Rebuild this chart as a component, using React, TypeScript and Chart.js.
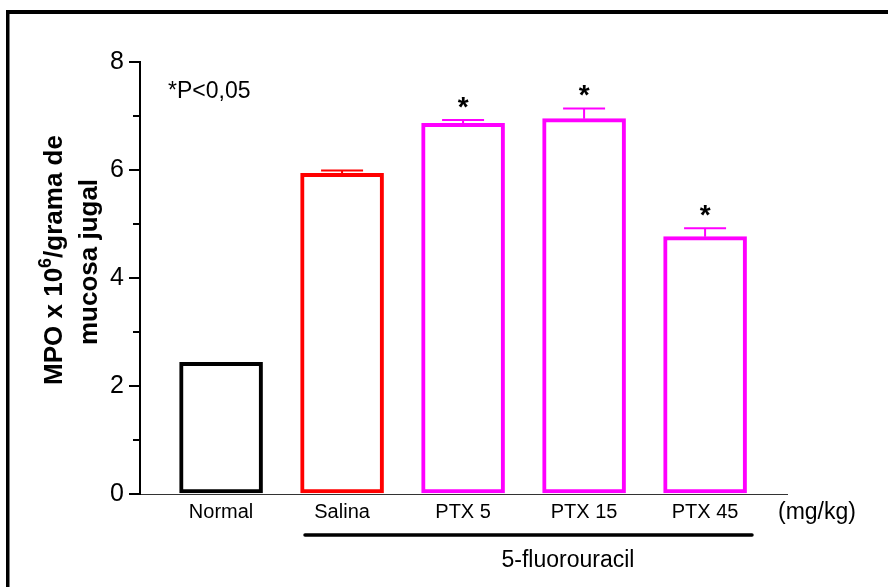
import React, { useEffect, useRef } from "react";
import { Chart, registerables } from "chart.js";

Chart.register(...registerables);

const categories = ["Normal", "Salina", "PTX 5", "PTX 15", "PTX 45"];
const meanValues = [2.44, 5.94, 6.865, 6.95, 4.765];
const semValues = [0, 0.05, 0.06, 0.19, 0.155];
const significant = [false, false, true, true, true];
const barColors = ["#000000", "#ff0000", "#ff00ff", "#ff00ff", "#ff00ff"];
const yTickValues = [0, 2, 4, 6, 8];
const yMinorTicks = [1, 3, 5, 7];

const FONT = "'Liberation Sans', Arial, sans-serif";

const overlayPlugin = {
  id: "overlay",
  afterDraw(chart: any) {
    const ctx = chart.ctx;
    const y = chart.scales.y;
    const area = chart.chartArea;
    ctx.save();

    // outer frame (left + top)
    ctx.fillStyle = "#000";
    ctx.fillRect(6, 10, 3.5, 587);
    ctx.fillRect(6, 10, 888, 4);

    // minor y ticks
    ctx.strokeStyle = "#000";
    ctx.lineWidth = 2;
    yMinorTicks.forEach((v) => {
      const py = Math.round(y.getPixelForValue(v));
      ctx.beginPath();
      ctx.moveTo(area.left - 7, py);
      ctx.lineTo(area.left, py);
      ctx.stroke();
    });

    // error bars and asterisks
    const meta = chart.getDatasetMeta(0);
    meta.data.forEach((bar: any, i: number) => {
      const cx = bar.x;
      const top = y.getPixelForValue(meanValues[i]);
      const capY = y.getPixelForValue(meanValues[i] + semValues[i]);
      if (semValues[i] > 0) {
        ctx.strokeStyle = barColors[i];
        ctx.lineWidth = 2;
        ctx.beginPath();
        ctx.moveTo(cx, top);
        ctx.lineTo(cx, capY);
        ctx.moveTo(cx - 21, capY);
        ctx.lineTo(cx + 21, capY);
        ctx.stroke();
      }
      if (significant[i]) {
        ctx.fillStyle = "#000";
        ctx.font = `bold 28px ${FONT}`;
        ctx.textAlign = "center";
        ctx.textBaseline = "alphabetic";
        ctx.fillText("*", cx, capY - 4);
      }
    });

    // annotation texts
    ctx.fillStyle = "#000";
    ctx.textAlign = "left";
    ctx.textBaseline = "alphabetic";
    ctx.font = `23px ${FONT}`;
    ctx.fillText("*P<0,05", 168, 98);
    ctx.fillText("(mg/kg)", 778, 519);

    // 5-fluorouracil bracket
    ctx.strokeStyle = "#000";
    ctx.lineWidth = 3.5;
    ctx.lineCap = "round";
    ctx.beginPath();
    ctx.moveTo(305, 535);
    ctx.lineTo(752, 535);
    ctx.stroke();
    ctx.textAlign = "center";
    ctx.font = `23px ${FONT}`;
    ctx.fillText("5-fluorouracil", 568, 567);

    // y axis title (rotated, two lines)
    const drawRotated = (bx: number, cy: number, parts: { t: string; sup?: boolean }[]) => {
      ctx.save();
      ctx.translate(bx, cy);
      ctx.rotate(-Math.PI / 2);
      const mainFont = `bold 26px ${FONT}`;
      const supFont = `bold 18px ${FONT}`;
      let total = 0;
      parts.forEach((p) => {
        ctx.font = p.sup ? supFont : mainFont;
        total += ctx.measureText(p.t).width;
      });
      let px = -total / 2;
      ctx.textAlign = "left";
      ctx.textBaseline = "alphabetic";
      parts.forEach((p) => {
        ctx.font = p.sup ? supFont : mainFont;
        ctx.fillText(p.t, px, p.sup ? -11 : 0);
        px += ctx.measureText(p.t).width;
      });
      ctx.restore();
    };
    drawRotated(62, 260, [{ t: "MPO x 10" }, { t: "6", sup: true }, { t: "/grama de" }]);
    drawRotated(97, 262, [{ t: "mucosa jugal" }]);

    ctx.restore();
  },
};

export default function App() {
  const ref = useRef<HTMLCanvasElement | null>(null);
  useEffect(() => {
    if (!ref.current) return;
    const chart = new Chart(ref.current, {
      type: "bar",
      data: {
        datasets: [
          {
            data: meanValues.map((v, i) => ({ x: i, y: v })),
            backgroundColor: "#ffffff",
            borderColor: barColors,
            borderWidth: 4,
            borderSkipped: false,
            barThickness: 83,
          } as any,
        ],
      },
      options: {
        animation: false,
        responsive: false,
        devicePixelRatio: 1,
        layout: { padding: { left: 0, top: 62, right: 101, bottom: 0 } },
        plugins: { legend: { display: false }, tooltip: { enabled: false } },
        scales: {
          x: {
            type: "linear",
            offset: false,
            min: -0.67,
            max: 4.677,
            grid: { display: false, drawTicks: false },
            border: { display: true, color: "#333", width: 1 },
            ticks: {
              color: "#000",
              font: { family: FONT, size: 20 },
              padding: 6,
              autoSkip: false,
              maxRotation: 0,
              callback: (v: any) => categories[v as number] ?? "",
            },
            afterBuildTicks: (axis: any) => {
              axis.ticks = categories.map((_, i) => ({ value: i }));
            },
            afterFit: (s: any) => {
              s.height = 93;
            },
          },
          y: {
            min: 0,
            max: 8,
            grid: {
              drawOnChartArea: false,
              drawTicks: true,
              tickLength: 11,
              color: "#000",
              lineWidth: 2,
            },
            border: { display: true, color: "#000", width: 2 },
            ticks: {
              color: "#000",
              font: { family: FONT, size: 25 },
              padding: 5,
              stepSize: 2,
            },
            afterBuildTicks: (axis: any) => {
              axis.ticks = yTickValues.map((v) => ({ value: v }));
            },
            afterFit: (s: any) => {
              s.width = 140;
            },
          },
        },
      } as any,
      plugins: [overlayPlugin],
    });
    return () => chart.destroy();
  }, []);
  return (
    <div style={{ position: "absolute", left: 0, top: 0, width: 888, height: 587, background: "#fff" }}>
      <canvas ref={ref} width={888} height={587} style={{ display: "block" }} />
    </div>
  );
}
